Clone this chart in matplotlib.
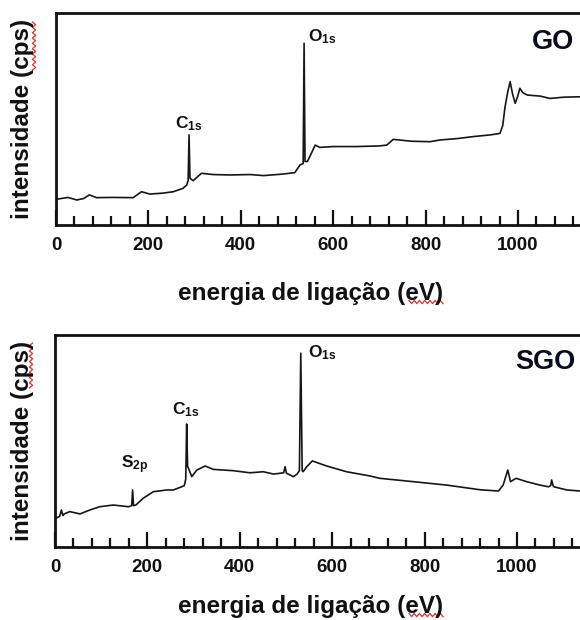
import numpy as np
import matplotlib
matplotlib.use("Agg")
import matplotlib.pyplot as plt
from matplotlib.ticker import MultipleLocator, NullLocator
from matplotlib.lines import Line2D

plt.rcParams['font.family'] = ['Liberation Sans', 'DejaVu Sans']
plt.rcParams['font.weight'] = 'bold'
plt.rcParams['mathtext.fontset'] = 'custom'
plt.rcParams['mathtext.rm'] = 'Liberation Sans:bold'
plt.rcParams['mathtext.bf'] = 'Liberation Sans:bold'
plt.rcParams['mathtext.it'] = 'Liberation Sans:bold'

# XPS survey spectra (binding energy in eV, intensity in arbitrary units)
go_energy = [0, 14, 26, 45, 60, 72, 88, 120, 167, 185, 203, 230, 254, 275, 283, 286,
             288, 290, 297, 305, 315, 340, 377, 420, 449, 490, 517, 528, 535, 537,
             539, 544, 552, 561, 571, 600, 650, 700, 716, 730, 770, 810, 831, 870,
             903, 940, 961, 967, 972, 978, 983, 988, 994, 999, 1004, 1010, 1020,
             1048, 1069, 1100, 1140, 1200]
go_intensity = [12.1, 12.6, 13.0, 11.8, 12.5, 14.2, 12.9, 13.0, 12.9, 15.7, 14.6, 15.0,
                15.7, 17.3, 18.9, 21.0, 42.5, 22.0, 20.9, 22.5, 24.4, 23.8, 23.6, 23.8,
                23.3, 24.0, 24.7, 28.3, 29.0, 85.7, 30.0, 29.9, 33.5, 37.7, 36.6, 37.0,
                37.0, 37.3, 37.7, 40.4, 39.5, 39.3, 40.1, 40.8, 41.7, 42.5, 43.2, 47.0,
                55.8, 63.0, 67.6, 62.0, 57.4, 60.5, 64.5, 62.5, 61.3, 60.8, 59.7, 60.3,
                60.5, 60.5]

sgo_energy = [2, 10, 14, 17, 20, 32, 54, 76, 97, 126, 159, 166, 168, 170, 175, 191,
              213, 242, 256, 274, 280, 283, 285, 287, 289, 296, 307, 325, 343, 386,
              422, 451, 473, 495, 498, 501, 516, 524, 529, 532, 535, 537, 545, 557,
              588, 631, 682, 703, 776, 848, 920, 960, 970, 980, 986, 998, 1021, 1050,
              1068, 1073, 1075, 1078, 1080, 1108, 1137, 1200]
sgo_intensity = [13.5, 14.5, 17.5, 14.8, 15.6, 16.7, 15.6, 17.5, 19.0, 19.8, 19.0, 19.5,
                 26.9, 19.5, 19.8, 23.0, 26.1, 26.9, 26.9, 28.4, 29.0, 32.0, 58.0, 38.0,
                 37.1, 33.2, 36.3, 38.2, 36.6, 36.0, 35.0, 35.5, 34.4, 35.0, 37.9, 34.8,
                 33.2, 34.4, 36.0, 91.4, 36.0, 35.5, 37.9, 40.6, 38.2, 35.5, 33.5, 32.4,
                 30.8, 29.2, 27.0, 26.4, 29.2, 36.3, 30.8, 32.4, 30.8, 29.2, 28.4, 29.0,
                 31.6, 29.0, 28.4, 26.9, 26.4, 26.2]

# Peak labels: (main symbol, subscript, energy, intensity, horizontal alignment)
go_labels = [("C", "1s", 288, 43.5, "center"), ("O", "1s", 545, 88.7, "left")]
sgo_labels = [("S", "2p", 173, 33.5, "center"), ("C", "1s", 284, 60.5, "center"),
              ("O", "1s", 548, 91.5, "left")]
sample_names = ["GO", "SGO"]
name_positions = [(1030, 86.3), (996, 87.3)]

x_label = "energia de ligação (eV)"
y_label = "intensidade (cps)"
x_tick_values = [0, 200, 400, 600, 800, 1000]

W, H = 580, 620
fig = plt.figure(figsize=(W / 100, H / 100), dpi=100)

px_per_ev = 0.462
x_max = 1200
panels = [
    dict(left=56, top=13, bottom=225, energy=go_energy, inten=go_intensity,
         labels=go_labels, xlab_y=294),
    dict(left=55, top=335, bottom=547, energy=sgo_energy, inten=sgo_intensity,
         labels=sgo_labels, xlab_y=606),
]


def wavy(x0, y0, x1, y1, amp=1.6, step=2.6):
    """Red wavy underline between two pixel positions."""
    length = np.hypot(x1 - x0, y1 - y0)
    n = int(length / step) + 1
    t = np.linspace(0, 1, n)
    ux, uy = (x1 - x0) / length, (y1 - y0) / length
    nx, ny = -uy, ux
    off = np.where(np.arange(n) % 2 == 0, -amp, amp)
    xs = x0 + ux * t * length + nx * off
    ys = y0 + uy * t * length + ny * off
    fig.add_artist(Line2D(xs / W, 1 - ys / H, transform=fig.transFigure,
                          color="#e03030", lw=0.9))


for i, p in enumerate(panels):
    width_px = x_max * px_per_ev
    ax = fig.add_axes([p["left"] / W, 1 - p["bottom"] / H, width_px / W,
                       (p["bottom"] - p["top"]) / H])
    ax.plot(p["energy"], p["inten"], color="#161616", lw=1.2)
    ax.set_xlim(0, x_max)
    ax.set_ylim(0, 100)
    ax.xaxis.set_minor_locator(MultipleLocator(40))
    ax.yaxis.set_major_locator(NullLocator())
    ax.set_xticks(x_tick_values)
    ax.set_xticklabels([str(v) for v in x_tick_values])
    ax.tick_params(axis="x", which="major", direction="in", length=11, width=1.6,
                   labelsize=13.5, pad=9, color="#111111")
    ax.tick_params(axis="x", which="minor", direction="in", length=6.5, width=1.6,
                   color="#111111")
    for lab in ax.get_xticklabels():
        lab.set_fontweight("bold")
        lab.set_color("#111111")
    for side in ["left", "bottom", "top", "right"]:
        ax.spines[side].set_linewidth(2.0)
        ax.spines[side].set_color("#111111")

    for sym, sub, e, y, ha in p["labels"]:
        ax.text(e, y, rf"$\mathbf{{{sym}_{{{sub}}}}}$", fontsize=12.5, ha=ha,
                va="bottom" if ha == "center" else "center", color="#111111")

    nx, ny = name_positions[i]
    ax.text(nx, ny, sample_names[i], fontsize=19.5, fontweight="bold",
            color="#0b0b1e", ha="left", va="center")

    # axis titles
    fig.text(311 / W, 1 - p["xlab_y"] / H, x_label, fontsize=17.5,
             fontweight="bold", ha="center", va="center", color="#111111")
    yc = (p["top"] + p["bottom"]) / 2
    fig.text(23 / W, 1 - yc / H, y_label, fontsize=17.5, fontweight="bold",
             rotation=90, ha="center", va="center", color="#111111")

# spell-check underlines
wavy(34, 70, 34, 22)
wavy(31, 388, 31, 343)
wavy(409, 302, 443, 302)
wavy(409, 615, 443, 615)

fig.savefig("out.png", dpi=100)
